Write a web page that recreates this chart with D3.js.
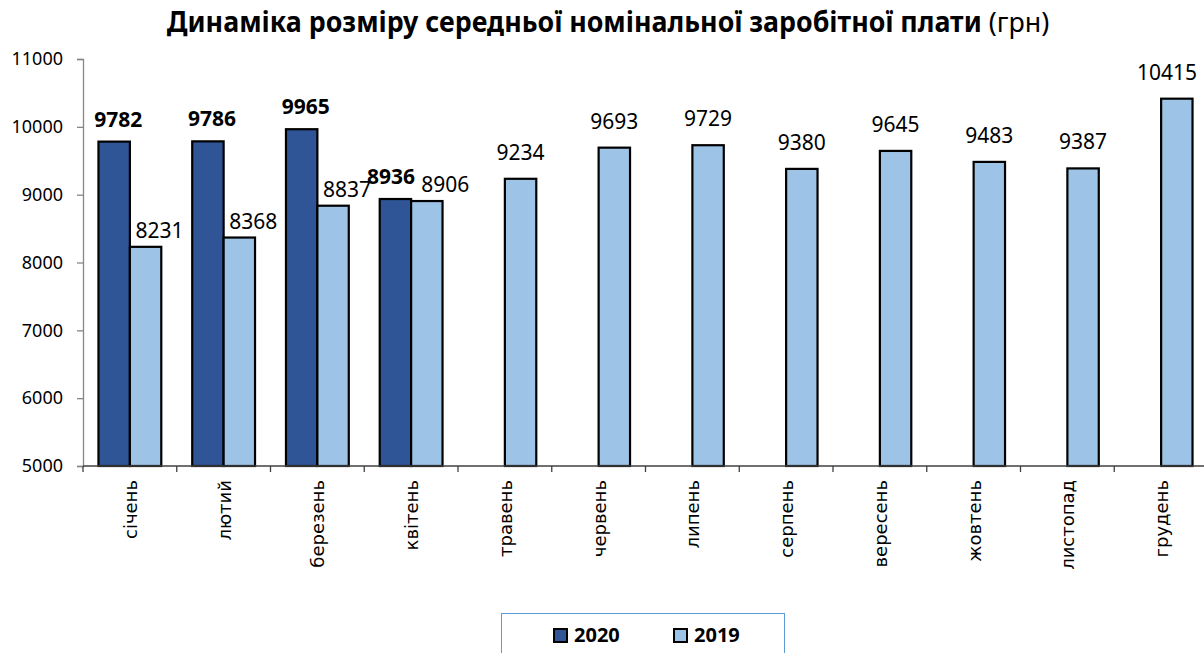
<!DOCTYPE html>
<html>
<head>
<meta charset="utf-8">
<script src="https://cdn.jsdelivr.net/npm/d3@7"></script>
<style>
  html, body { margin: 0; padding: 0; background: #fff; }
  svg { display: block; }
</style>
</head>
<body>
<svg id="chart" width="1204" height="653"></svg>
<script>
// ---- data ----
const months = ["січень", "лютий", "березень", "квітень", "травень", "червень",
  "липень", "серпень", "вересень", "жовтень", "листопад", "грудень"];
const series = ["2020", "2019"];
const values2020 = [9782, 9786, 9965, 8936, null, null, null, null, null, null, null, null];
const values2019 = [8231, 8368, 8837, 8906, 9234, 9693, 9729, 9380, 9645, 9483, 9387, 10415];
const yTicks = [5000, 6000, 7000, 8000, 9000, 10000, 11000];

const colors = { "2020": "#2f5597", "2019": "#9dc3e6" };
const numFont = "'Noto Sans', sans-serif";

const svg = d3.select("#chart");

// ---- scales ----
const plotLeft = 83, plotRight = 1208, plotTop = 59, plotBottom = 466;

const x0 = d3.scaleBand().domain(months).range([plotLeft, plotRight])
  .paddingInner(0.33).paddingOuter(0.165);
const x1 = d3.scaleBand().domain(series).range([0, x0.bandwidth()]);
const y = d3.scaleLinear().domain([5000, 11000]).range([plotBottom, plotTop]);

// ---- title ----
const title = svg.append("text")
  .attr("x", 608).attr("y", 32)
  .attr("text-anchor", "middle")
  .attr("font-family", numFont)
  .attr("font-size", 28)
  .attr("fill", "#000");
title.append("tspan").attr("font-weight", "bold").text("Динаміка розміру середньої номінальної заробітної плати");
title.append("tspan").attr("font-weight", "normal").text(" (грн)");
// squeeze to the narrower original face
const tw = title.node().getComputedTextLength();
const sx = 883 / tw;
title.attr("transform", `translate(${608 * (1 - sx)},0) scale(${sx},1)`);

// ---- y axis ----
const yAxis = svg.append("g")
  .attr("transform", `translate(${plotLeft},0)`)
  .call(d3.axisLeft(y).tickValues(yTicks).tickSize(6).tickPadding(14).tickFormat(d3.format("d")));
yAxis.select(".domain").attr("stroke", "#868686").attr("stroke-width", 1.3);
yAxis.selectAll(".tick line").attr("stroke", "#868686").attr("stroke-width", 1.3);
yAxis.selectAll("text").attr("font-family", numFont).attr("font-size", 18).attr("fill", "#000");

// ---- bars ----
const rows = months.map((m, i) => ({ month: m, "2020": values2020[i], "2019": values2019[i] }));

const groups = svg.append("g").selectAll("g")
  .data(rows)
  .join("g")
  .attr("transform", d => `translate(${x0(d.month)},0)`);

groups.selectAll("rect")
  .data(d => series.filter(s => d[s] != null).map(s => ({ key: s, value: d[s] })))
  .join("rect")
  .attr("x", d => x1(d.key))
  .attr("y", d => y(d.value))
  .attr("width", x1.bandwidth())
  .attr("height", d => y(5000) - y(d.value))
  .attr("fill", d => colors[d.key])
  .attr("stroke", "#000")
  .attr("stroke-width", 2.2);

// value labels
groups.each(function (d) {
  const g = d3.select(this);
  const paired = d["2020"] != null;
  const gx = x0(d.month);
  const made = {};
  series.forEach(s => {
    if (d[s] == null) return;
    const is20 = s === "2020";
    const t = g.append("text")
      .attr("x", x1(s) + x1.bandwidth() / 2 + (paired ? (is20 ? 4 : 14) : 0))
      .attr("y", y(d[s]) - (paired ? (is20 ? 15 : 9) : 19))
      .attr("text-anchor", "middle")
      .attr("font-family", numFont)
      .attr("font-size", 21)
      .attr("font-weight", is20 ? "bold" : "normal")
      .attr("fill", "#000")
      .text(d[s]);
    // keep labels inside the frame
    const b = t.node().getBBox();
    if (gx + b.x + b.width > 1197) t.attr("x", +t.attr("x") - (gx + b.x + b.width - 1197));
    made[s] = t;
  });
  // push apart the two labels when they collide
  if (made["2020"] && made["2019"]) {
    const a = made["2020"].node().getBBox();
    const b = made["2019"].node().getBBox();
    const vOverlap = a.y < b.y + b.height && b.y < a.y + a.height;
    const hOverlap = a.x + a.width + 2 - b.x;
    if (vOverlap && hOverlap > 0) {
      made["2020"].attr("x", +made["2020"].attr("x") - hOverlap / 2 - 4);
      made["2019"].attr("x", +made["2019"].attr("x") + hOverlap / 2);
    }
  }
});

// ---- x axis ----
const xAxis = svg.append("g");
xAxis.append("line")
  .attr("x1", plotLeft).attr("x2", plotRight)
  .attr("y1", plotBottom).attr("y2", plotBottom)
  .attr("stroke", "#404040").attr("stroke-width", 1.3);
const step = x0.step();
xAxis.selectAll("line.tick")
  .data(d3.range(months.length + 1))
  .join("line")
  .attr("class", "tick")
  .attr("x1", i => plotLeft + i * step).attr("x2", i => plotLeft + i * step)
  .attr("y1", plotBottom).attr("y2", plotBottom + 6)
  .attr("stroke", "#404040").attr("stroke-width", 1.3);
xAxis.selectAll("text")
  .data(months)
  .join("text")
  .attr("transform", d => `translate(${x0(d) + x0.bandwidth() / 2 + 7},${plotBottom + 14}) rotate(-90)`)
  .attr("text-anchor", "end")
  .attr("font-family", "'DejaVu Sans', sans-serif")
  .attr("font-size", 18)
  .attr("fill", "#000")
  .text(d => d);

// ---- legend ----
const legend = svg.append("g");
legend.append("rect")
  .attr("x", 501.5).attr("y", 613.5)
  .attr("width", 283).attr("height", 60)
  .attr("fill", "none")
  .attr("stroke", "#5b9bd5").attr("stroke-width", 1);
const legendX = { "2020": 554, "2019": 674 };
series.forEach(s => {
  legend.append("rect")
    .attr("x", legendX[s]).attr("y", 629)
    .attr("width", 13).attr("height", 13)
    .attr("fill", colors[s])
    .attr("stroke", "#000").attr("stroke-width", 2);
  legend.append("text")
    .attr("x", legendX[s] + 20).attr("y", 642)
    .attr("font-family", numFont)
    .attr("font-size", 20)
    .attr("font-weight", "bold")
    .attr("fill", "#000")
    .text(s);
});
</script>
</body>
</html>
